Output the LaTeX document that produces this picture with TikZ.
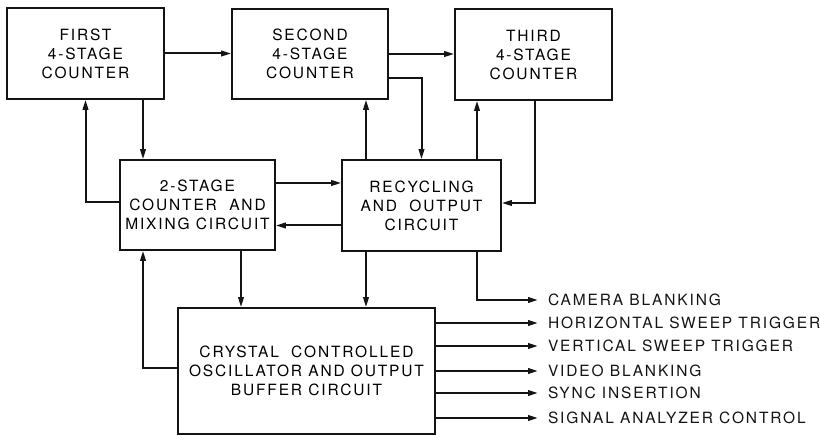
\documentclass[tikz,border=0pt]{standalone}
\usepackage{fontspec}
\setmainfont{TeX Gyre Heros}[LetterSpace=12]
\usetikzlibrary{arrows.meta,positioning}
\definecolor{ink}{RGB}{20,20,20}
\tikzset{
  >={Triangle[length=10pt,width=5.5pt]},
  box/.style={draw=ink,line width=1.6pt,inner sep=0pt,align=center,
    minimum width=#1,font=\fontsize{15.5}{19}\selectfont},
  box/.default=157pt,
  flow/.style={->,line width=2pt,draw=ink},
  sig/.style={anchor=west,inner sep=0pt,outer xsep=10pt,text=ink,
    font=\fontsize{15.5}{19}\selectfont},
}
\begin{document}
\begin{tikzpicture}[x=1pt,y=-1pt]
  \useasboundingbox (0,0) rectangle (820,435);
  % counters
  \node[box,minimum height=91pt] (first) at (85.5,53.5) {FIRST\\4-STAGE\\COUNTER};
  \node[box=156pt,minimum height=90pt] (second) at (310,54) {SECOND\\4-STAGE\\COUNTER};
  \node[box,minimum height=91pt] (third) at (533.5,54.5) {THIRD\\4-STAGE\\COUNTER};
  % middle row
  \node[box=155pt,minimum height=90pt] (mix) at (197.5,205) {2-STAGE\\COUNTER~ AND\\MIXING CIRCUIT};
  \node[box=159pt,minimum height=91pt] (recyc) at (421.5,205.5) {RECYCLING\\AND~ OUTPUT\\CIRCUIT};
  % oscillator
  \node[box=257pt,minimum height=126pt] (osc) at (306.5,371) {CRYSTAL~ CONTROLLED\\OSCILLATOR AND OUTPUT\\BUFFER CIRCUIT};
  % top row
  \draw[flow] (first.east) -- (first.east -| second.west);
  \draw[flow] (second.east) -- (second.east -| third.west);
  \draw[flow] ([yshift=-24pt]second.east) -| (recyc.north);
  % first <-> mix
  \draw[flow] ([xshift=57.5pt]first.south) -- ([xshift=57.5pt]first.south |- mix.north);
  \draw[flow] ([yshift=3pt]mix.west) -| (first.south);
  % mix <-> recyc
  \draw[flow] ([yshift=22pt]mix.east) -- ([yshift=22pt]mix.east -| recyc.west);
  \draw[flow] ([yshift=-20pt]recyc.west) -- ([yshift=-20pt]recyc.west -| mix.east);
  % recyc <-> second, third
  \draw[flow] ([xshift=-55.5pt]recyc.north) -- ([xshift=-55.5pt]recyc.north |- second.south);
  \draw[flow] ([xshift=55.5pt]recyc.north) -- ([xshift=55.5pt]recyc.north |- third.south);
  \draw[flow] ([xshift=1.5pt]third.south) |- ([yshift=2.5pt]recyc.east);
  % down to oscillator
  \draw[flow] ([xshift=43.5pt]mix.south) -- ([xshift=43.5pt]mix.south |- osc.north);
  \draw[flow] ([xshift=-55.5pt]recyc.south) -- ([xshift=-55.5pt]recyc.south |- osc.north);
  \draw[flow] ([yshift=3pt]osc.west) -| ([xshift=-54.5pt]mix.south);
  % outputs
  \node[sig] (cam) at (538,300) {CAMERA BLANKING};
  \draw[flow] ([xshift=55.5pt]recyc.south) |- (cam.west);
  \foreach \t/\y [count=\i] in {HORIZONTAL SWEEP TRIGGER/323,VERTICAL SWEEP TRIGGER/346,
      VIDEO BLANKING/371,SYNC INSERTION/393,SIGNAL ANALYZER CONTROL/418}
  {
    \node[sig] (out\i) at (538,\y) {\t};
    \draw[flow] (osc.east |- out\i.west) -- (out\i.west);
  }
\end{tikzpicture}
\end{document}
